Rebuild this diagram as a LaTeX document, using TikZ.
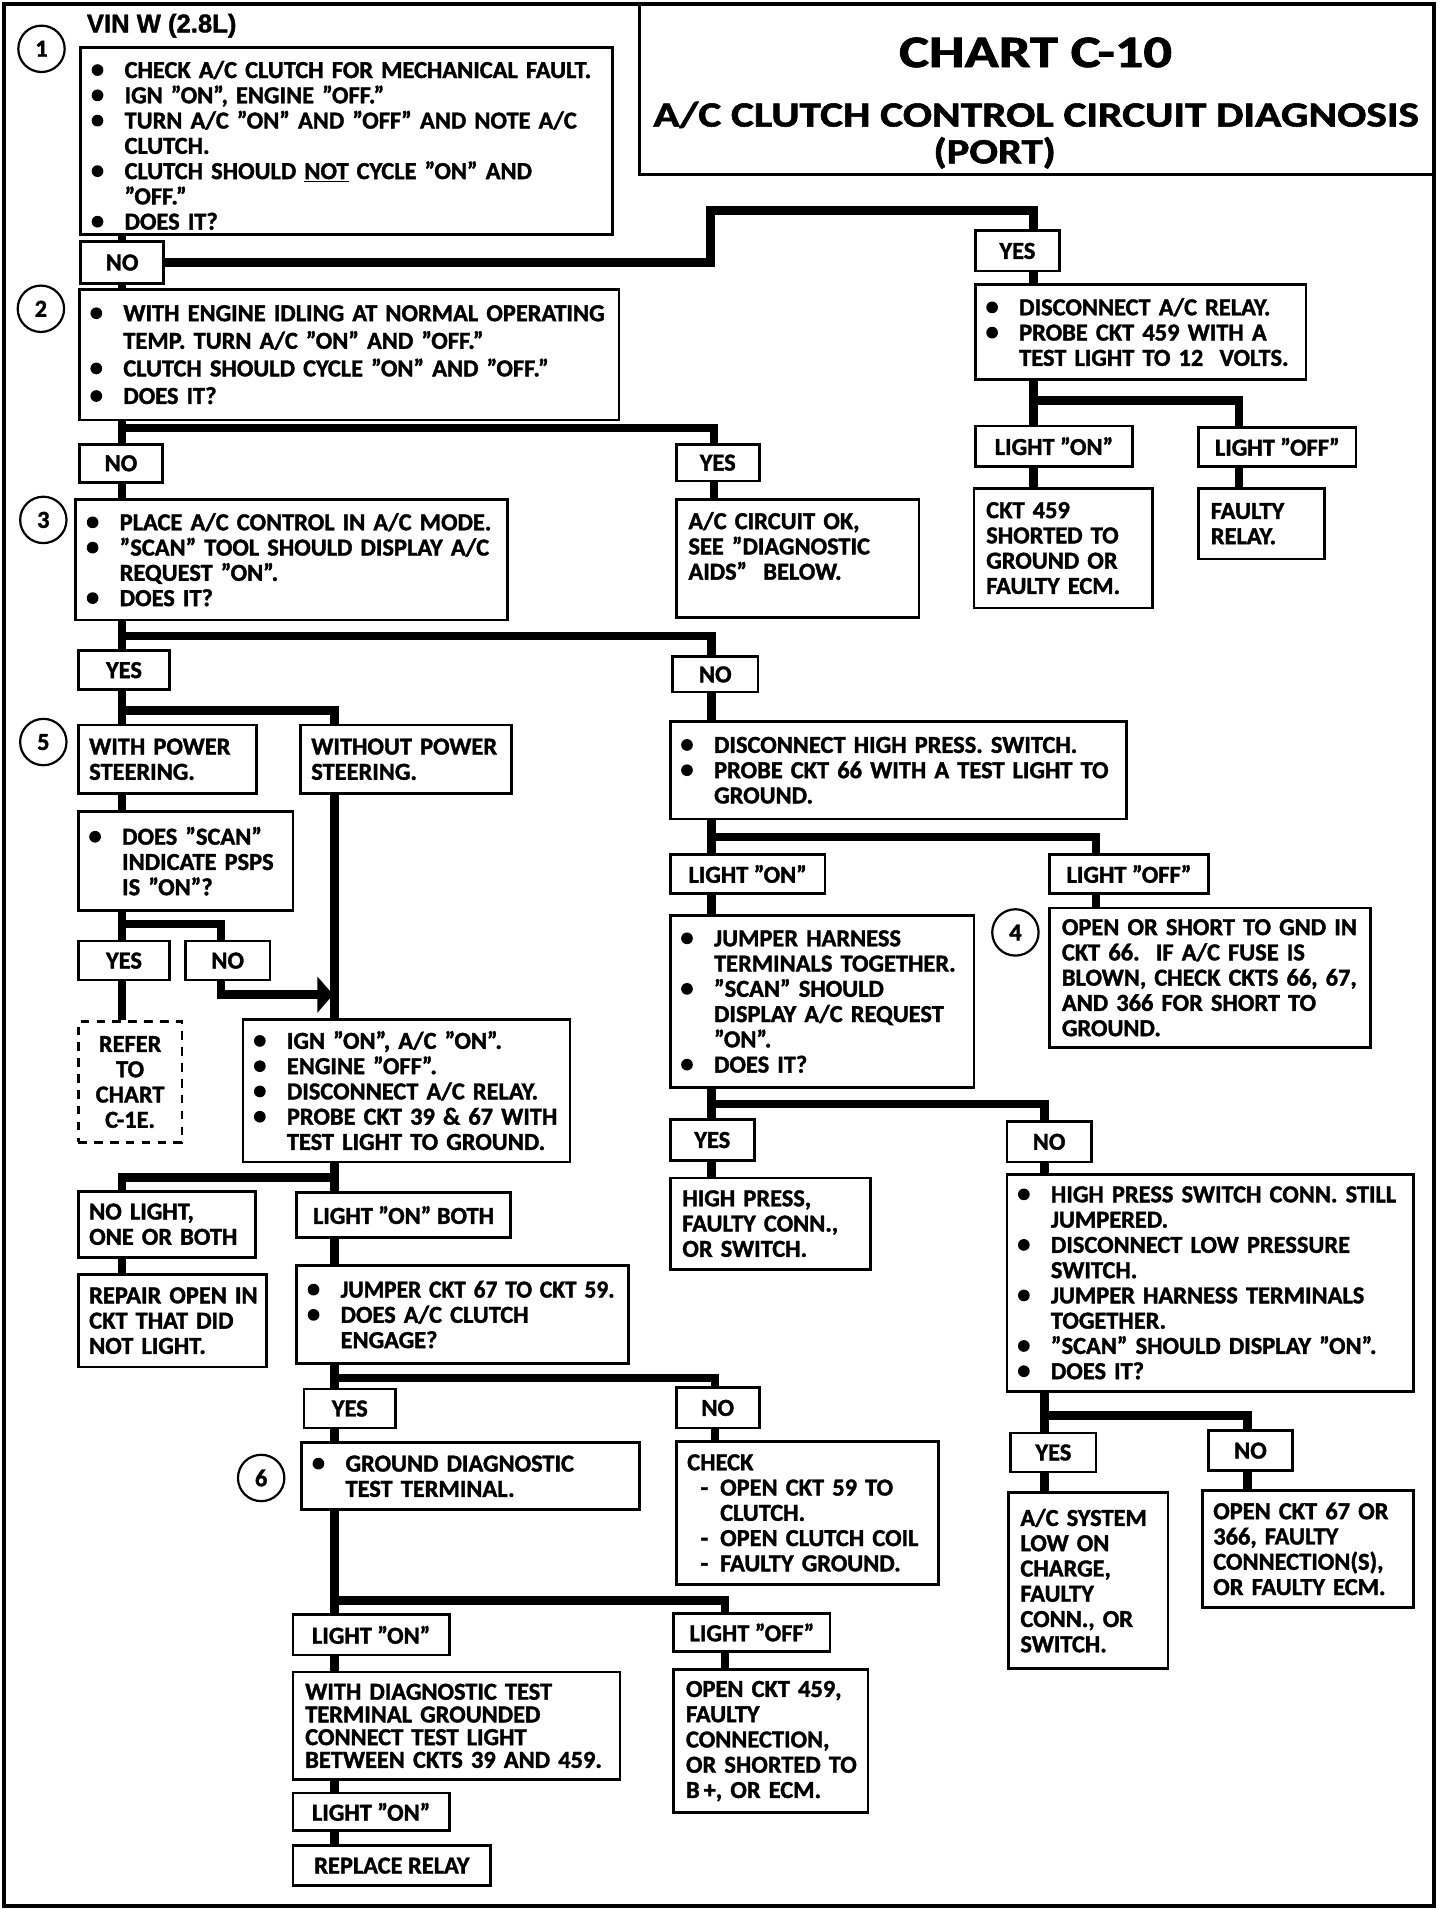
\documentclass[tikz,border=0pt]{standalone}
\usepackage{fontspec}
\setmainfont{Carlito}[BoldFeatures={FakeBold=1.5}]
\newfontfamily\vinfont{Liberation Sans}[BoldFeatures={FakeBold=1.5}]
\usepackage{graphicx}
\usetikzlibrary{arrows.meta}
\newcommand\bodyfont{\fontsize{20}{20.7}\selectfont\bfseries}
\newcommand\bodyfontb{\fontsize{20}{22.6}\selectfont\bfseries}
\newcommand\bodyfontc{\fontsize{20}{18.6}\selectfont\bfseries}
\newcommand\Bu{\makebox[27pt][l]{\tikz[baseline=0pt]\fill (4.8pt,6.5pt) circle[radius=4.8pt];}}
\newcommand\BL[1]{\mbox{\Bu#1}}
\newcommand\CL[1]{\mbox{\hspace*{27pt}#1}}
\newcommand\DL[1]{\mbox{\hspace*{11pt}\makebox[16pt][l]{-}#1}}
\newcommand\PL[1]{\mbox{#1}}
\begin{document}
\begin{tikzpicture}[x=1pt,y=-1pt,
  conn/.style={line width=7pt},
  box/.style={draw, line width=2.2pt, anchor=north west, align=left, inner ysep=0pt, font=\bodyfont},
  lbl/.style={draw, line width=2.2pt, anchor=north west, inner sep=0pt, font=\bodyfont},
  circ/.style={draw, circle, line width=1.8pt, minimum size=38pt, inner sep=0pt, font=\bodyfont}]
\useasboundingbox (0,0) rectangle (1193,1565);
% frame and title
\draw[line width=3.4pt] (3,3) rectangle (1175,1562);
\draw[line width=2.2pt] (524,3) rectangle (1175,143);
\node[anchor=base, font=\fontsize{37}{40}\selectfont\bfseries] (t1) at (848.5,55) {\scalebox{1.25}[1]{CHART C-10}};
\node[anchor=base, font=\fontsize{29}{32}\selectfont\bfseries] (t2) at (849,103.7) {\scalebox{1.225}[1]{A/C CLUTCH CONTROL CIRCUIT DIAGNOSIS}};
\node[anchor=base, font=\fontsize{29}{32}\selectfont\bfseries] (t3) at (815,133.8) {\scalebox{1.2}[1]{(PORT)}};
\node[anchor=base west, inner xsep=0pt, font=\fontsize{21}{24}\selectfont\vinfont\bfseries] (vin) at (71,26.5) {VIN W (2.8L)};
% columns
\coordinate (xa) at (100,0);
\coordinate (xb) at (274,0);
\coordinate (xj) at (181,0);
\coordinate (xc) at (583,0);
\coordinate (xf) at (585,0);
\coordinate (xk) at (586,0);
\coordinate (xl) at (594,0);
\coordinate (xd) at (847,0);
\coordinate (xe) at (1015,0);
\coordinate (xg) at (856,0);
\coordinate (xh) at (898,0);
\coordinate (xi) at (1022,0);
\coordinate (k1) at (582,172.4);
\coordinate (ar) at (273,815);
% circles
\node[circ] (c1) at (34,40) {1};
\node[circ] (c2) at (33.5,253) {2};
\node[circ] (c3) at (35.5,426) {3};
\node[circ] (c5) at (35.5,608) {5};
\node[circ] (c4) at (832,764) {4};
\node[circ] (c6) at (214,1211) {6};
% boxes
\node[box, minimum width=436pt, minimum height=153pt, inner xsep=9pt, text width=418pt] (b1) at (65,38) {%
\BL{\rule{0pt}{21pt}CHECK A/C CLUTCH FOR MECHANICAL FAULT.}\\
\BL{IGN "ON", ENGINE "OFF."}\\
\BL{TURN A/C "ON" AND "OFF" AND NOTE A/C}\\
\CL{CLUTCH.}\\
\BL{CLUTCH SHOULD \underline{NOT} CYCLE "ON" AND}\\
\CL{"OFF."}\\
\BL{DOES IT?}};
\node[lbl, minimum width=68pt, minimum height=34pt] (no1) at (65,197) {NO};
\node[box, font=\bodyfontb, minimum width=442pt, minimum height=107pt, inner xsep=9pt, text width=424pt] (b2) at (64,236) {%
\BL{WITH ENGINE IDLING AT NORMAL OPERATING}\\
\CL{TEMP. TURN A/C "ON" AND "OFF."}\\
\BL{CLUTCH SHOULD CYCLE "ON" AND "OFF."}\\
\BL{DOES IT?}};
\node[lbl, minimum width=68pt, minimum height=31pt] (no2) at (64,363) {NO};
\node[lbl, minimum width=68pt, minimum height=30pt] (yes2) at (553,363) {YES};
\node[box, minimum width=199pt, minimum height=97pt, inner xsep=10pt, text width=179pt] (acok) at (553,408) {%
\PL{A/C CIRCUIT OK,}\\ \PL{SEE "DIAGNOSTIC}\\ \PL{AIDS" \ BELOW.}\\ \mbox{}};
\node[box, minimum width=354pt, minimum height=99pt, inner xsep=9pt, text width=336pt] (b3) at (61,408) {%
\BL{PLACE A/C CONTROL IN A/C MODE.}\\
\BL{"SCAN" TOOL SHOULD DISPLAY A/C}\\
\CL{REQUEST "ON".}\\
\BL{DOES IT?}};
\node[lbl, minimum width=75pt, minimum height=32pt] (yes3) at (63,532) {YES};
\node[lbl, minimum width=70pt, minimum height=29pt] (no3) at (550,537) {NO};
% right top
\node[lbl, minimum width=69pt, minimum height=33pt] (yes1) at (798,188) {YES};
\node[box, minimum width=271pt, minimum height=78pt, inner xsep=9pt, text width=253pt] (r1) at (798,232) {%
\BL{DISCONNECT A/C RELAY.}\\
\BL{PROBE CKT 459 WITH A}\\
\CL{TEST LIGHT TO 12\ \ VOLTS.}};
\node[lbl, minimum width=129pt, minimum height=33pt] (lon1) at (798,348) {LIGHT "ON"};
\node[lbl, minimum width=129pt, minimum height=32pt] (loff1) at (981,349) {LIGHT "OFF"};
\node[box, minimum width=146pt, minimum height=98pt, inner xsep=10pt, text width=126pt] (ckt459) at (797,399) {%
\PL{CKT 459}\\ \PL{SHORTED TO}\\ \PL{GROUND OR}\\ \PL{FAULTY ECM.}};
\node[box, minimum width=103pt, minimum height=58pt, inner xsep=10pt, text width=83pt] (frelay) at (981,399) {%
\PL{FAULTY}\\ \PL{RELAY.}};
% left middle
\node[box, minimum width=146pt, minimum height=56pt, inner xsep=9pt, text width=128pt] (wps) at (63,593) {%
\PL{WITH POWER}\\ \PL{STEERING.}};
\node[box, minimum width=173pt, minimum height=56pt, inner xsep=9pt, text width=155pt] (wops) at (245,593) {%
\PL{WITHOUT POWER}\\ \PL{STEERING.}};
\node[box, minimum width=176pt, minimum height=81pt, inner xsep=9pt, text width=158pt] (psps) at (63,664) {%
\BL{DOES "SCAN"}\\ \CL{INDICATE PSPS}\\ \CL{IS "ON"?}};
\node[lbl, minimum width=75pt, minimum height=32pt] (yes5) at (63,770) {YES};
\node[lbl, minimum width=69pt, minimum height=32pt] (no5) at (151,770) {NO};
\node[box, dash pattern=on 7pt off 6pt, align=center, minimum width=85pt, minimum height=99pt, inner xsep=4pt, text width=77pt] (refer) at (63,836) {%
REFER\\ TO\\ CHART\\ C-1E.};
\node[box, minimum width=268pt, minimum height=117pt, inner xsep=9pt, text width=250pt] (ign) at (198,834) {%
\BL{IGN "ON", A/C "ON".}\\
\BL{ENGINE "OFF".}\\
\BL{DISCONNECT A/C RELAY.}\\
\BL{PROBE CKT 39 \& 67 WITH}\\
\CL{TEST LIGHT TO GROUND.}};
\node[box, minimum width=145pt, minimum height=54pt, inner xsep=9pt, text width=127pt] (nolight) at (63,975) {%
\PL{NO LIGHT,}\\ \PL{ONE OR BOTH}};
\node[lbl, minimum width=175pt, minimum height=37pt] (lob) at (242,976) {LIGHT "ON" BOTH};
\node[box, minimum width=154pt, minimum height=76pt, inner xsep=9pt, text width=136pt] (repair) at (63,1043) {%
\PL{REPAIR OPEN IN}\\ \PL{CKT THAT DID}\\ \PL{NOT LIGHT.}};
\node[box, minimum width=272pt, minimum height=80pt, inner xsep=9pt, text width=254pt] (j67) at (242,1036) {%
\BL{\scalebox{0.96}[1]{JUMPER CKT 67 TO CKT 59.}}\\
\BL{DOES A/C CLUTCH}\\
\CL{ENGAGE?}};
\node[lbl, minimum width=75pt, minimum height=32pt] (yes6) at (248,1137) {YES};
\node[lbl, minimum width=68pt, minimum height=33pt] (no6) at (553,1136) {NO};
\node[box, minimum width=277pt, minimum height=55pt, inner xsep=9pt, text width=259pt] (ground) at (246,1181) {%
\BL{GROUND DIAGNOSTIC}\\ \CL{TEST TERMINAL.}};
\node[box, minimum width=215pt, minimum height=117pt, inner xsep=9pt, text width=197pt] (check) at (553,1180) {%
\PL{CHECK}\\
\DL{OPEN CKT 59 TO}\\
\CL{CLUTCH.}\\
\DL{OPEN CLUTCH COIL}\\
\DL{FAULTY GROUND.}};
\node[lbl, minimum width=128pt, minimum height=33pt] (lon6) at (239,1322) {LIGHT "ON"};
\node[lbl, minimum width=128pt, minimum height=31pt] (loff6) at (551,1321) {LIGHT "OFF"};
\node[box, font=\bodyfontc, minimum width=268pt, minimum height=88pt, inner xsep=10pt, text width=248pt] (wdiag) at (239,1369) {%
\PL{WITH DIAGNOSTIC TEST}\\ \PL{TERMINAL GROUNDED}\\ \PL{CONNECT TEST LIGHT}\\ \PL{BETWEEN CKTS 39 AND 459.}};
\node[box, minimum width=159pt, minimum height=117pt, inner xsep=10pt, text width=139pt] (o459) at (551,1367) {%
\PL{OPEN CKT 459,}\\ \PL{FAULTY}\\ \PL{CONNECTION,}\\ \PL{OR SHORTED TO}\\ \PL{B\,+, OR ECM.}};
\node[lbl, minimum width=128pt, minimum height=31pt] (lon7) at (239,1468) {LIGHT "ON"};
\node[lbl, minimum width=162pt, minimum height=33pt] (replace) at (239,1511) {REPLACE RELAY};
% right middle
\node[box, minimum width=374pt, minimum height=80pt, inner xsep=9pt, text width=356pt] (hp) at (548,590) {%
\BL{DISCONNECT HIGH PRESS. SWITCH.}\\
\BL{PROBE CKT 66 WITH A TEST LIGHT TO}\\
\CL{GROUND.}};
\node[lbl, minimum width=127pt, minimum height=32pt] (lon4) at (548,699) {LIGHT "ON"};
\node[lbl, minimum width=130pt, minimum height=32pt] (loff4) at (859,699) {LIGHT "OFF"};
\node[box, minimum width=249pt, minimum height=141pt, inner xsep=9pt, text width=231pt] (jh) at (548,749) {%
\BL{JUMPER HARNESS}\\
\CL{TERMINALS TOGETHER.}\\
\BL{"SCAN" SHOULD}\\
\CL{DISPLAY A/C REQUEST}\\
\CL{"ON".}\\
\BL{DOES IT?}};
\node[box, minimum width=263pt, minimum height=114pt, inner xsep=10pt, text width=243pt] (os) at (859,743) {%
\PL{OPEN OR SHORT TO GND IN}\\ \PL{CKT 66.\ \ IF A/C FUSE IS}\\ \PL{BLOWN, CHECK CKTS 66, 67,}\\ \PL{AND 366 FOR SHORT TO}\\ \PL{GROUND.}};
\node[lbl, minimum width=69pt, minimum height=34pt] (yes8) at (548,916) {YES};
\node[lbl, minimum width=69pt, minimum height=33pt] (no8) at (824,918) {NO};
\node[box, minimum width=164pt, minimum height=75pt, inner xsep=10pt, text width=144pt] (hpc) at (548,964) {%
\PL{HIGH PRESS,}\\ \PL{FAULTY CONN.,}\\ \PL{OR SWITCH.}};
\node[box, minimum width=333pt, minimum height=178pt, inner xsep=9pt, text width=315pt] (hp2) at (824,961) {%
\BL{HIGH PRESS SWITCH CONN. STILL}\\
\CL{JUMPERED.}\\
\BL{DISCONNECT LOW PRESSURE}\\
\CL{SWITCH.}\\
\BL{JUMPER HARNESS TERMINALS}\\
\CL{TOGETHER.}\\
\BL{"SCAN" SHOULD DISPLAY "ON".}\\
\BL{DOES IT?}};
\node[lbl, minimum width=70pt, minimum height=32pt] (yes9) at (827,1173) {YES};
\node[lbl, minimum width=69pt, minimum height=33pt] (no9) at (989,1171) {NO};
\node[box, minimum width=131pt, minimum height=144pt, inner xsep=10pt, text width=111pt] (acsys) at (825,1222) {%
\PL{A/C SYSTEM}\\ \PL{LOW ON}\\ \PL{CHARGE,}\\ \PL{FAULTY}\\ \PL{CONN., OR}\\ \PL{SWITCH.}};
\node[box, minimum width=173pt, minimum height=96pt, inner xsep=9pt, text width=155pt] (o67) at (984,1220) {%
\PL{OPEN CKT 67 OR}\\ \PL{366, FAULTY}\\ \PL{CONNECTION(S),}\\ \PL{OR FAULTY ECM.}};
% connectors
\draw[conn] (b1.south -| xa) -- (no1.north -| xa);
\draw[conn] (no1.south -| xa) -- (b2.north -| xa);
\draw[conn] (no1.east) -| (k1) -| (yes1.north -| xd);
\draw[conn] (yes1.south -| xd) -- (r1.north -| xd);
\draw[conn] (r1.south -| xd) -- (lon1.north -| xd);
\draw[conn] (r1.south -| xd) ++(0,16) -| (loff1.north -| xe);
\draw[conn] (lon1.south -| xd) -- (ckt459.north -| xd);
\draw[conn] (loff1.south -| xe) -- (frelay.north -| xe);
\draw[conn] (b2.south -| xa) -- (no2.north -| xa);
\draw[conn] (b2.south -| xa) ++(0,5.5) -| (yes2.north -| xf);
\draw[conn] (yes2.south -| xf) -- (acok.north -| xf);
\draw[conn] (no2.south -| xa) -- (b3.north -| xa);
\draw[conn] (b3.south -| xa) -- (yes3.north -| xa);
\draw[conn] (b3.south -| xa) ++(0,12) -| (no3.north -| xc);
\draw[conn] (yes3.south -| xa) -- (wps.north -| xa);
\draw[conn] (yes3.south -| xa) ++(0,16) -| (wops.north -| xb);
\draw[conn] (wps.south -| xa) -- (psps.north -| xa);
\draw[conn] (psps.south -| xa) -- (yes5.north -| xa);
\draw[conn] (psps.south -| xa) ++(0,10) -| (no5.north -| xj);
\draw[conn] (yes5.south -| xa) -- (refer.north -| xa);
\draw[conn, -{Triangle[length=13pt,width=29pt]}] (no5.south -| xj) |- (ar);
\draw[conn] (wops.south -| xb) -- (ign.north -| xb);
\draw[conn] (ign.south -| xb) -- (lob.north -| xb);
\draw[conn] (ign.south -| xb) ++(0,11.5) -| (nolight.north -| xa);
\draw[conn] (nolight.south -| xa) -- (repair.north -| xa);
\draw[conn] (lob.south -| xb) -- (j67.north -| xb);
\draw[conn] (j67.south -| xb) -- (yes6.north -| xb);
\draw[conn] (j67.south -| xb) ++(0,11) -| (no6.north -| xk);
\draw[conn] (yes6.south -| xb) -- (ground.north -| xb);
\draw[conn] (no6.south -| xk) -- (check.north -| xk);
\draw[conn] (ground.south -| xb) -- (lon6.north -| xb);
\draw[conn] (ground.south -| xb) ++(0,73) -| (loff6.north -| xl);
\draw[conn] (lon6.south -| xb) -- (wdiag.north -| xb);
\draw[conn] (loff6.south -| xl) -- (o459.north -| xl);
\draw[conn] (wdiag.south -| xb) -- (lon7.north -| xb);
\draw[conn] (lon7.south -| xb) -- (replace.north -| xb);
\draw[conn] (no3.south -| xc) -- (hp.north -| xc);
\draw[conn] (hp.south -| xc) -- (lon4.north -| xc);
\draw[conn] (hp.south -| xc) ++(0,13.5) -| (loff4.north -| xh);
\draw[conn] (lon4.south -| xc) -- (jh.north -| xc);
\draw[conn] (loff4.south -| xh) -- (os.north -| xh);
\draw[conn] (jh.south -| xc) -- (yes8.north -| xc);
\draw[conn] (jh.south -| xc) ++(0,12.5) -| (no8.north -| xg);
\draw[conn] (yes8.south -| xc) -- (hpc.north -| xc);
\draw[conn] (no8.south -| xg) -- (hp2.north -| xg);
\draw[conn] (hp2.south -| xg) -- (yes9.north -| xg);
\draw[conn] (hp2.south -| xg) ++(0,18.5) -| (no9.north -| xi);
\draw[conn] (yes9.south -| xg) -- (acsys.north -| xg);
\draw[conn] (no9.south -| xi) -- (o67.north -| xi);
\end{tikzpicture}
\end{document}
